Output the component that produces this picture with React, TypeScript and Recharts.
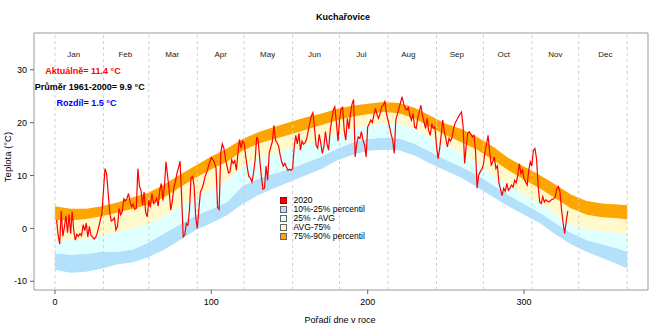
import React from 'react';
import { ComposedChart, Area, Line, XAxis, YAxis, ReferenceLine, ReferenceArea, ReferenceDot } from 'recharts';

const FONT = '"Liberation Sans", Arial, sans-serif';

// percentile band edges, read every 10 days
const bandDays = [0, 10, 20, 30, 40, 50, 60, 70, 80, 90, 100, 110, 120, 130, 140, 150, 160, 170, 180, 190, 200, 210, 220, 230, 240, 250, 260, 270, 280, 290, 300, 310, 320, 330, 340, 350, 360, 366];
const p10 = [-7.8, -8.4, -8.2, -7.6, -6.8, -6.4, -5.4, -4.0, -2.2, -0.3, 1.0, 2.5, 4.6, 6.3, 7.6, 8.8, 10.0, 11.2, 12.8, 13.9, 14.7, 14.9, 14.8, 13.8, 12.3, 10.9, 9.6, 7.8, 6.0, 4.2, 2.6, 1.0, -1.1, -3.0, -4.4, -5.6, -6.8, -7.6];
const p25 = [-4.7, -5.0, -4.8, -4.4, -4.4, -4.0, -2.6, -0.9, 0.8, 2.4, 3.6, 5.0, 8.0, 9.4, 10.4, 11.2, 12.4, 13.5, 15.0, 16.2, 16.9, 17.2, 17.0, 16.0, 14.5, 13.0, 11.6, 10.1, 8.2, 6.3, 4.6, 3.0, 1.0, -0.8, -2.2, -3.0, -3.8, -4.4];
const pAvg = [-2.4, -2.2, -1.9, -1.4, -0.6, 0.1, 0.9, 2.3, 4.2, 5.8, 7.4, 9.0, 11.8, 13.2, 14.1, 15.0, 15.9, 16.8, 17.9, 18.8, 19.5, 20.0, 19.8, 18.9, 17.3, 15.8, 14.2, 12.3, 10.1, 8.1, 6.4, 4.8, 2.8, 0.8, -0.1, -0.5, -0.8, -1.0];
const p75 = [1.6, 1.5, 1.8, 2.3, 3.0, 3.7, 4.5, 5.9, 7.8, 9.6, 11.2, 12.6, 14.7, 16.0, 16.9, 17.7, 18.6, 19.5, 20.4, 21.1, 21.6, 22.0, 21.8, 20.8, 19.2, 17.6, 16.3, 14.9, 13.0, 11.0, 9.2, 7.6, 5.7, 3.8, 2.6, 2.1, 1.9, 1.7];
const p90 = [4.2, 3.7, 3.7, 4.2, 4.9, 5.9, 6.8, 8.3, 10.2, 11.9, 13.6, 15.1, 16.9, 18.2, 19.2, 20.1, 21.0, 21.7, 22.6, 23.2, 23.6, 23.9, 23.7, 22.8, 21.3, 19.8, 18.8, 17.3, 15.5, 13.3, 11.7, 10.1, 8.3, 6.4, 5.2, 4.7, 4.5, 4.4];

// daily mean temperature 2020, day 1..328
const t2020 = [
  1.6, -1.2, -3.0, 3.3, -1.5, 0.2, 2.4, -0.8, 2.6, -1.0,
  3.2, -0.4, -2.2, -1.1, -1.5, -1.0, -1.4, 0.7, -0.4, 1.0,
  -1.6, 0.4, -1.3, -1.6, -2.0, -1.7, -0.9, 0.3, 1.6, 2.8,
  7.2, 11.3, 10.3, 6.8, 3.0, 1.4, 1.6, 2.0, -0.3, 0.4,
  3.8, 2.6, 3.2, 5.6, 5.2, 5.6, 6.6, 5.0, 4.1, 4.6,
  3.6, 3.8, 11.3, 8.0, 7.2, 4.4, 6.9, 3.0, 2.2, 5.3,
  4.0, 6.6, 4.7, 5.0, 5.7, 4.2, 7.2, 8.5, 5.3, 8.0,
  12.6, 10.0, 7.2, 3.5, 5.0, 7.6, 8.8, 10.4, 11.5, 12.7,
  5.9, -1.6, -1.2, 0.9, 0.6, 3.4, 9.6, 9.8, 8.0, 2.2,
  0.0, 3.5, 6.9, 7.5, 8.5, 9.8, 10.6, 11.6, 12.6, 13.4,
  13.0, 12.4, 11.4, 4.0, 3.6, 14.2, 16.0, 15.2, 13.2, 11.8,
  10.5, 10.7, 13.0, 12.3, 12.8, 11.0, 14.2, 16.8, 15.2, 16.5,
  16.1, 13.6, 11.5, 9.8, 9.5, 8.8, 10.5, 12.9, 17.3, 16.5,
  12.9, 9.8, 7.4, 7.6, 11.8, 9.1, 14.2, 15.4, 16.4, 19.5,
  16.7, 16.2, 15.6, 13.9, 12.6, 11.8, 12.3, 11.6, 11.0, 11.2,
  11.0, 11.3, 15.4, 17.6, 16.0, 18.0, 14.8, 16.5, 15.9, 16.2,
  17.0, 18.5, 20.0, 21.3, 21.9, 18.9, 15.7, 15.2, 17.8, 16.1,
  14.2, 15.5, 18.3, 16.0, 14.8, 18.5, 20.5, 22.4, 23.0, 20.0,
  16.5, 20.5, 22.7, 22.9, 18.5, 16.7, 20.8, 18.8, 21.7, 23.5,
  24.4, 13.5, 16.0, 17.3, 17.0, 18.3, 16.7, 15.8, 13.5, 19.2,
  19.8, 20.5, 20.0, 21.5, 22.7, 21.5, 20.8, 21.8, 23.0, 23.3,
  24.0, 21.7, 20.5, 19.2, 17.8, 16.7, 14.2, 20.5, 21.6, 22.7,
  23.8, 24.9, 23.6, 22.7, 22.4, 22.9, 21.4, 20.5, 21.7, 19.2,
  18.9, 20.8, 22.0, 23.3, 21.4, 20.2, 18.9, 20.8, 18.6, 17.6,
  19.8, 18.9, 19.2, 15.7, 13.2, 15.0, 17.6, 20.5, 18.3, 17.0,
  15.4, 17.0, 16.5, 17.3, 18.9, 20.0, 20.5, 21.1, 21.6, 22.0,
  19.5, 12.3, 15.5, 18.0, 18.3, 17.8, 17.3, 17.6, 14.5, 7.6,
  10.1, 10.7, 11.2, 12.0, 14.5, 15.8, 17.6, 14.5, 12.0, 12.6,
  13.5, 11.3, 11.8, 8.5, 7.4, 6.2, 7.6, 7.0, 8.5, 7.2,
  7.6, 8.2, 7.8, 9.1, 8.6, 10.1, 12.2, 10.4, 11.0, 9.4,
  8.8, 8.2, 11.0, 12.6, 11.8, 14.8, 15.1, 13.2, 8.2, 5.0,
  4.7, 6.0, 5.0, 5.4, 5.2, 5.0, 5.3, 5.5, 5.6, 6.0,
  7.5, 7.9, 6.9, 3.5, 1.0, -0.95, 1.3, 3.3,
];

const monthStarts = [0, 31, 60, 91, 121, 152, 182, 213, 244, 274, 305, 335, 366];
const monthNames = ['Jan', 'Feb', 'Mar', 'Apr', 'May', 'Jun', 'Jul', 'Aug', 'Sep', 'Oct', 'Nov', 'Dec'];
const monthMid = [12, 45, 75, 106, 136, 166, 196, 226, 257, 287, 320, 352];
const xTicks = [0, 100, 200, 300];
const yTicks = [-10, 0, 10, 20, 30];

const legendLabels = ['2020', '10%-25% percentil', '25% - AVG', 'AVG-75%', '75%-90% percentil'];
const COLORS = { red: '#ff0000', blue: '#b3e0fb', cyan: '#e0ffff', yellow: '#fff9cc', orange: '#ffa500' };
const legendColors = [COLORS.red, COLORS.blue, COLORS.cyan, COLORS.yellow, COLORS.orange];

const annotations = [
  { text: 'Aktuálně= 11.4 °C', color: '#ff0000' },
  { text: 'Průměr 1961-2000= 9.9 °C', color: '#000000' },
  { text: 'Rozdíl= 1.5 °C', color: '#0000ff' },
];

const X_DOMAIN: [number, number] = [-13.43, 379.3];
const Y_DOMAIN: [number, number] = [-11.65, 36.96];

const bandData = bandDays.map((d, i) => ({
  day: d,
  b1: [p10[i], p25[i]],
  b2: [p25[i], pAvg[i]],
  b3: [pAvg[i], p75[i]],
  b4: [p75[i], p90[i]],
}));
const lineData = t2020.map((v, i) => ({ day: i + 1, t: v }));

export default function App() {
  return (
    <div style={{ position: 'absolute', left: 0, top: 0, width: 666, height: 333, background: '#fff', fontFamily: FONT }}>
      <ComposedChart width={666} height={333} margin={{ top: 33, right: 18, bottom: 0, left: 0 }}>
        <XAxis
          dataKey="day"
          type="number"
          domain={X_DOMAIN}
          allowDataOverflow
          ticks={xTicks}
          height={43}
          tickSize={4}
          tickMargin={5}
          axisLine={false}
          tickLine={{ stroke: '#666' }}
          tick={{ fontSize: 9, fill: '#000', fontFamily: FONT }}
        />
        <YAxis
          type="number"
          domain={Y_DOMAIN}
          allowDataOverflow
          ticks={yTicks}
          width={34}
          tickSize={4}
          tickMargin={3}
          axisLine={false}
          tickLine={{ stroke: '#666' }}
          tick={{ fontSize: 9, fill: '#000', fontFamily: FONT }}
        />
        <Area data={bandData} dataKey="b1" type="linear" stroke="none" fill={COLORS.blue} fillOpacity={1} isAnimationActive={false} />
        <Area data={bandData} dataKey="b2" type="linear" stroke="none" fill={COLORS.cyan} fillOpacity={1} isAnimationActive={false} />
        <Area data={bandData} dataKey="b3" type="linear" stroke="none" fill={COLORS.yellow} fillOpacity={1} isAnimationActive={false} />
        <Area data={bandData} dataKey="b4" type="linear" stroke="none" fill={COLORS.orange} fillOpacity={1} isAnimationActive={false} />
        {monthStarts.map((d) => (
          <ReferenceLine key={'m' + d} x={d} stroke="#cfcfcf" strokeDasharray="3 3" strokeWidth={1} />
        ))}
        {monthMid.map((d, i) => (
          <ReferenceDot
            key={'n' + d}
            x={d}
            y={32.9}
            r={0}
            fill="none"
            stroke="none"
            label={{ value: monthNames[i], position: 'center', fontSize: 8, fill: '#222', fontFamily: FONT }}
          />
        ))}
        <Line data={lineData} dataKey="t" type="linear" stroke={COLORS.red} strokeWidth={1.2} dot={false} isAnimationActive={false} />
        <ReferenceArea x1={X_DOMAIN[0]} x2={X_DOMAIN[1]} y1={Y_DOMAIN[0]} y2={Y_DOMAIN[1]} fill="none" stroke="#999" strokeWidth={1} />
      </ComposedChart>

      <svg width={666} height={333} style={{ position: 'absolute', left: 0, top: 0, pointerEvents: 'none' }}>
        <text x={343} y={20} textAnchor="middle" fontSize={9} fontWeight="bold" fill="#000" fontFamily={FONT}>Kuchařovice</text>
        <text x={340} y={323} textAnchor="middle" fontSize={9} fill="#000" fontFamily={FONT}>Pořadí dne v roce</text>
        <text x={11} y={157} textAnchor="middle" fontSize={9.5} fill="#000" fontFamily={FONT} transform="rotate(-90 11 157)">Teplota (°C)</text>
        {annotations.map((a, i) => (
          <text key={a.text} x={[83, 89.7, 86.5][i]} y={[74, 90, 106][i]} textAnchor="middle" fontSize={9} fontWeight="bold" fill={a.color} fontFamily={FONT}>{a.text}</text>
        ))}
      </svg>

      <div style={{ position: 'absolute', left: 280, top: 195.5, fontSize: 8.5, lineHeight: '9.1px', color: '#000', fontFamily: FONT }}>
        {legendLabels.map((l, i) => (
          <div key={l} style={{ display: 'flex', alignItems: 'center', height: 9.1, whiteSpace: 'nowrap' }}>
            <span style={{ display: 'inline-block', width: 5, height: 5, background: legendColors[i], border: '0.8px solid ' + (i === 0 ? '#a00' : '#666'), marginRight: 6.5 }} />
            <span>{l}</span>
          </div>
        ))}
      </div>
    </div>
  );
}
